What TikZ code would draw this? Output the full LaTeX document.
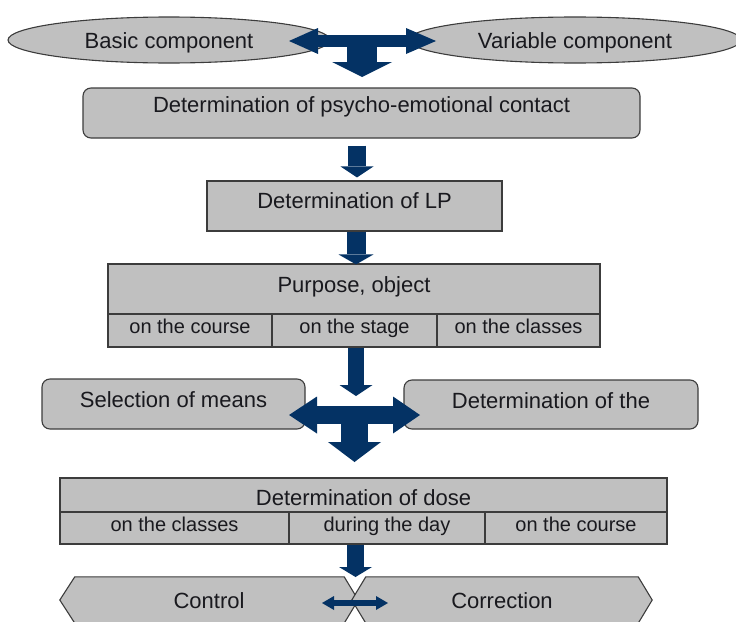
\documentclass[tikz,border=0pt]{standalone}
\usepackage{fontspec}
\setmainfont{Liberation Sans}
\usetikzlibrary{arrows.meta,calc,shapes.geometric,backgrounds}
\definecolor{boxgray}{RGB}{192,192,192}
\definecolor{edgegray}{RGB}{60,60,60}
\definecolor{navyarrow}{RGB}{4,50,100}
\definecolor{ink}{RGB}{25,25,30}
\begin{document}
\begin{tikzpicture}[x=1pt,y=-1pt,
  base/.style={fill=boxgray, draw=edgegray, line width=1.1pt, inner sep=0pt, text=ink,
    font=\fontsize{22}{26}\selectfont, text height=16pt, text depth=0pt},
  oval/.style={base, ellipse},
  rbox/.style={base, rectangle, rounded corners=8pt},
  sbox/.style={base, rectangle},
  cell/.style={base, rectangle, font=\fontsize{20}{24}\selectfont, text height=11pt, text depth=5pt},
  txt/.style={inner sep=0pt, text=ink, font=\fontsize{22}{26}\selectfont, text height=16pt, text depth=0pt},
  hexshape/.style={fill=boxgray, draw=edgegray, line width=1.1pt},
  varrow/.style={draw=navyarrow, line width=18pt, -{Triangle[width=33pt,length=11pt,line width=0pt]}},
]
\path[use as bounding box] (0,0) rectangle (736,621);
\clip (0,0) rectangle (736,621);

% top ellipses
\node[oval, minimum width=322, minimum height=46] (basic) at (169,40) {Basic component};
\node[oval, minimum width=332, minimum height=46] (variable) at (575,40) {Variable component};

% boxes
\node[rbox, minimum width=557, minimum height=50, text depth=18pt] (psy) at (361.5,113) {Determination of psycho-emotional contact};
\node[sbox, minimum width=295, minimum height=50, text depth=12pt] (lp) at (354.5,206) {Determination of LP};

\node[sbox, minimum width=492, minimum height=50, text depth=10pt] (purp) at (354,289) {Purpose, object};
\node[cell, minimum width=164, minimum height=33] (pc1) at (190,330.5) {on the course};
\node[cell, minimum width=165, minimum height=33] (pc2) at (354.5,330.5) {on the stage};
\node[cell, minimum width=163, minimum height=33] (pc3) at (518.5,330.5) {on the classes};

\node[rbox, minimum width=263, minimum height=50, text depth=10pt] (means) at (173.5,404) {Selection of means};
\node[rbox, minimum width=294, minimum height=49, text depth=9pt] (detthe) at (551,404.5) {Determination of the};

\node[sbox, minimum width=607, minimum height=34, text height=20pt] (dose) at (363.5,495) {Determination of dose};
\node[cell, minimum width=229, minimum height=32] (dc1) at (174.5,528) {on the classes};
\node[cell, minimum width=196, minimum height=32] (dc2) at (387,528) {during the day};
\node[cell, minimum width=182, minimum height=32] (dc3) at (576,528) {on the course};

% bottom chamfered shapes
\node[txt, minimum width=298, minimum height=46] (control) at (209,600) {Control};
\node[txt, minimum width=300, minimum height=46] (correction) at (502,600) {Correction};
\begin{scope}[on background layer]
  \draw[hexshape] (control.west) -- ($(control.north west)+(15,0)$) -- ($(control.north east)+(-14,0)$)
    -- (control.east) -- ($(control.south east)+(-14,0)$) -- ($(control.south west)+(15,0)$) -- cycle;
  \draw[hexshape] (correction.west) -- ($(correction.north west)+(14,0)$) -- ($(correction.north east)+(-14,0)$)
    -- (correction.east) -- ($(correction.south east)+(-14,0)$) -- ($(correction.south west)+(14,0)$) -- cycle;
\end{scope}

% named points for the block arrows
\coordinate (t1l) at (289,41);
\coordinate (t1r) at (436,41);
\coordinate (t1c) at (362,41);
\coordinate (t1d) at (362,77);
\coordinate (axA) at (357,0);
\coordinate (axB) at (356,0);
\coordinate (t2l) at (289,415);
\coordinate (t2r) at (420,415);
\coordinate (t2c) at (354.5,415);
\coordinate (t2d) at (354.5,462);
\coordinate (axC) at (355.5,0);
\coordinate (bl) at (322,603);
\coordinate (br) at (388,603);
\coordinate (bjoin) at (355.5,577);

% top T arrow between the ellipses
\draw[draw=navyarrow, line width=12pt,
  {Triangle[width=26pt,length=29pt,line width=0pt]}-{Triangle[width=26pt,length=30pt,line width=0pt]}] (t1l) -- (t1r);
\draw[draw=navyarrow, line width=30pt, -{Triangle[width=60pt,length=15pt,line width=0pt]}] (t1c) -- (t1d);

% vertical arrows
\draw[varrow] ($(psy.south -| axA)+(0,7)$) -- ($(lp.north -| axA)+(0,-3)$);
\draw[varrow, line width=19pt, -{Triangle[width=35pt,length=10pt,line width=0pt]}] (lp.south -| axB) -- ($(purp.north -| axB)+(0,1)$);
\draw[varrow, line width=16pt, -{Triangle[width=33pt,length=11pt,line width=0pt]}] (pc2.south -| axB) -- ($(t2c -| axB)+(0,-19)$);

% middle cross arrow
\draw[draw=navyarrow, line width=18pt,
  {Triangle[width=37pt,length=28pt,line width=0pt]}-{Triangle[width=37pt,length=27pt,line width=0pt]}] (t2l) -- (t2r);
\draw[draw=navyarrow, line width=27pt, -{Triangle[width=53pt,length=20pt,line width=0pt]}] (t2c) -- (t2d);

% dose to control/correction
\draw[draw=navyarrow, line width=17pt, -{Triangle[width=33pt,length=10pt,line width=0pt]}] (dc2.south -| axC) -- (bjoin);

% control <-> correction
\draw[draw=navyarrow, line width=6pt,
  {Triangle[width=14pt,length=12pt,line width=0pt]}-{Triangle[width=14pt,length=12pt,line width=0pt]}] (bl) -- (br);
\end{tikzpicture}
\end{document}
